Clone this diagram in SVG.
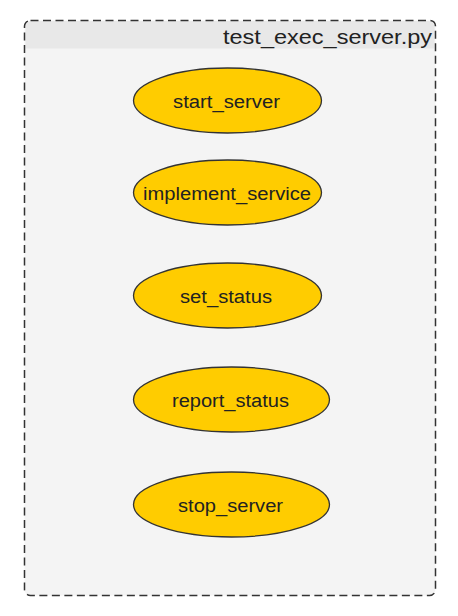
<svg xmlns="http://www.w3.org/2000/svg" width="458" height="616" viewBox="0 0 458 616">
<style>
.node ellipse{fill:#ffcc00;stroke:#333;stroke-width:1.3}
.node text{font-family:"Liberation Sans",Arial,sans-serif;font-size:18px;fill:#222;text-anchor:middle}
.title{font-family:"Liberation Sans",Arial,sans-serif;font-size:21px;fill:#222;text-anchor:end}
</style>
<rect width="458" height="616" fill="#ffffff"/>
<g id="cluster">
<rect x="24.5" y="20.5" width="411" height="575" rx="6" fill="#f4f4f4"/>
<path d="M25.5 48.5 V27 a6 6 0 0 1 6 -6 H428.5 a6 6 0 0 1 6 6 V48.5 Z" fill="#e8e8e8"/>
<rect x="24.5" y="20.5" width="411" height="575" rx="6" fill="none" stroke="#333" stroke-width="1.5" stroke-dasharray="8,4.5"/>
<text class="title" x="432" y="44" textLength="209" lengthAdjust="spacingAndGlyphs">test_exec_server.py</text>
</g>
<g id="connectors"></g>
<g id="start_server" class="node"><ellipse cx="227.5" cy="100.5" rx="94" ry="32.5"/><text x="226.5" y="107.5" textLength="107" lengthAdjust="spacingAndGlyphs">start_server</text></g>
<g id="implement_service" class="node"><ellipse cx="227.5" cy="192.5" rx="94" ry="32.5"/><text x="227" y="199.5" textLength="168" lengthAdjust="spacingAndGlyphs">implement_service</text></g>
<g id="set_status" class="node"><ellipse cx="227.5" cy="295.5" rx="94" ry="32.5"/><text x="226" y="302.5" textLength="92" lengthAdjust="spacingAndGlyphs">set_status</text></g>
<g id="report_status" class="node"><ellipse cx="231.5" cy="399.5" rx="98" ry="32.5"/><text x="230.5" y="406.5" textLength="117" lengthAdjust="spacingAndGlyphs">report_status</text></g>
<g id="stop_server" class="node"><ellipse cx="231.5" cy="504.5" rx="98" ry="32.5"/><text x="230.5" y="511.5" textLength="105" lengthAdjust="spacingAndGlyphs">stop_server</text></g>
</svg>
